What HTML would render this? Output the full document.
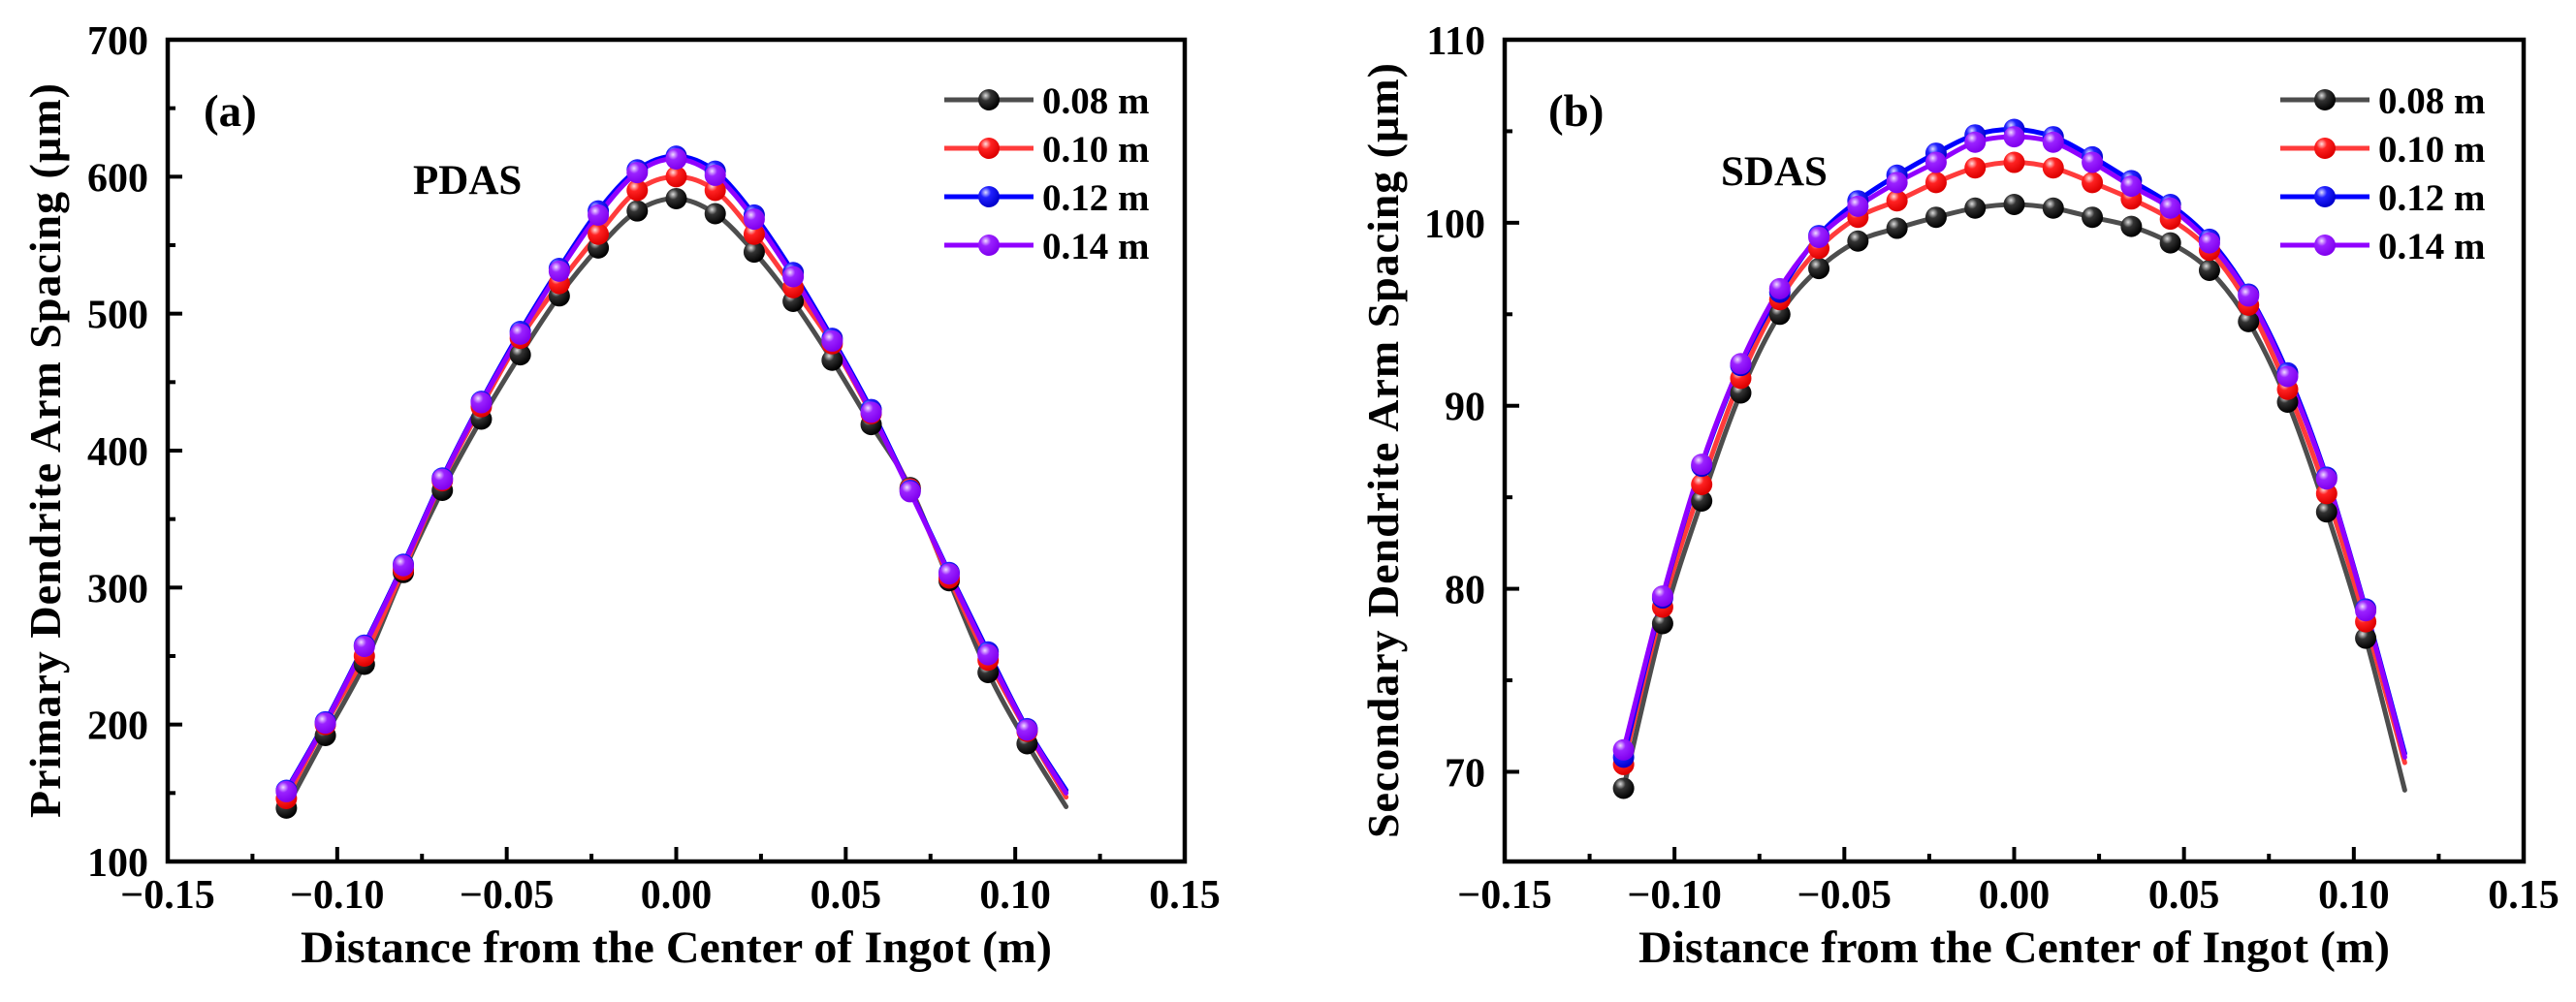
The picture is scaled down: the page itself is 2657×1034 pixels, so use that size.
<!DOCTYPE html>
<html><head><meta charset="utf-8"><style>
html,body{margin:0;padding:0;background:#fff;}
svg{display:block;font-family:"Liberation Serif",serif;font-weight:bold;}
</style></head><body>
<svg id="chart" width="2657" height="1034" viewBox="0 0 2657 1034" xmlns="http://www.w3.org/2000/svg">
<defs>
<radialGradient id="g0" cx="0.35" cy="0.3" r="0.7"><stop offset="0" stop-color="#ddd"/><stop offset="0.35" stop-color="#333"/><stop offset="1" stop-color="#000"/></radialGradient>
<radialGradient id="g1" cx="0.35" cy="0.3" r="0.7"><stop offset="0" stop-color="#fdd"/><stop offset="0.35" stop-color="#f22"/><stop offset="1" stop-color="#d00"/></radialGradient>
<radialGradient id="g2" cx="0.35" cy="0.3" r="0.7"><stop offset="0" stop-color="#ddf"/><stop offset="0.35" stop-color="#22f"/><stop offset="1" stop-color="#00c"/></radialGradient>
<radialGradient id="g3" cx="0.35" cy="0.3" r="0.7"><stop offset="0" stop-color="#f0ddff"/><stop offset="0.35" stop-color="#9a22ff"/><stop offset="1" stop-color="#8000ee"/></radialGradient>
</defs>
</svg>
<script>
const xs = [-0.115,-0.1035,-0.092,-0.0805,-0.069,-0.0575,-0.046,-0.0345,-0.023,-0.0115,0,0.0115,0.023,0.0345,0.046,0.0575,0.069,0.0805,0.092,0.1035,0.115];
const seriesNames = ["0.08 m","0.10 m","0.12 m","0.14 m"];
const pdas08 = [139,192,244,311,371,423,470,513,548,575,584,573,545,509,466,419,373,305,238,186,140];
const pdas10 = [146,200,250,313,378,432,482,522,558,590,600,590,558,519,478,427,372,307,247,195,147];
const pdas12 = [152,202,258,317,380,436,487,533,575,605,615,604,572,530,482,430,371,311,253,197,152];
const pdas14 = [151,201,257,316,379,435,485,531,572,603,613,601,569,527,480,428,370,310,251,196,150];
const sdas08 = [69.1,78.1,84.8,90.7,95.0,97.5,99.0,99.7,100.3,100.8,101.0,100.8,100.3,99.8,98.9,97.4,94.6,90.2,84.2,77.3,69.0];
const sdas10 = [70.4,79.0,85.7,91.5,95.8,98.6,100.3,101.2,102.2,103.0,103.3,103.0,102.2,101.3,100.2,98.5,95.5,90.9,85.2,78.2,70.5];
const sdas12 = [70.8,79.5,86.7,92.2,96.2,99.3,101.2,102.6,103.8,104.8,105.1,104.7,103.6,102.3,101.0,99.1,96.1,91.8,86.1,78.9,71.0];
const sdas14 = [71.2,79.6,86.8,92.3,96.4,99.2,100.9,102.2,103.3,104.4,104.7,104.4,103.3,102.0,100.8,98.9,96.0,91.6,86.0,78.8,70.8];
const xTicks = [-0.15,-0.10,-0.05,0.00,0.05,0.10,0.15];
const xTickLabels = ["\u22120.15","\u22120.10","\u22120.05","0.00","0.05","0.10","0.15"];
const pdasTicks = [100,200,300,400,500,600,700];
const sdasTicks = [70,80,90,100,110];

const svg = document.getElementById('chart');
const NS = 'http://www.w3.org/2000/svg';
const colors = ['#4d4d4d','#ff3b3b','#0000ff','#9000ff'];
function mk(tag, attrs, parent){const e=document.createElementNS(NS,tag);for(const k in attrs)e.setAttribute(k,attrs[k]);(parent||svg).appendChild(e);return e;}

function panel(cfg){
  const g = mk('g',{});
  
  
  const L=cfg.L,R=cfg.R,T=41,B=889;
  const sx = v => L + (v+0.15)/0.30*(R-L);
  const sy = v => B - (v-cfg.ymin)/(cfg.ymax-cfg.ymin)*(B-T);
  cfg.data.forEach((arr,si)=>{
    const pts = xs.map((x,i)=>[sx(x),sy(arr[i])]);
    let d='M'+pts[0][0]+','+pts[0][1];
    for(let i=0;i<pts.length-1;i++){
      const p0=pts[Math.max(0,i-1)],p1=pts[i],p2=pts[i+1],p3=pts[Math.min(pts.length-1,i+2)];
      const c1=[p1[0]+(p2[0]-p0[0])/6,p1[1]+(p2[1]-p0[1])/6];
      const c2=[p2[0]-(p3[0]-p1[0])/6,p2[1]-(p3[1]-p1[1])/6];
      d+=' C'+c1[0]+','+c1[1]+' '+c2[0]+','+c2[1]+' '+p2[0]+','+p2[1];
    }
    const path = mk('path',{d:d,fill:'none',stroke:colors[si],'stroke-width':5,'stroke-linejoin':'round','stroke-linecap':'round'},g);
    
    
  });
  cfg.data.forEach((arr,si)=>{
    for(let i=0;i<xs.length-1;i++){
      const c = mk('circle',{cx:sx(xs[i]),cy:sy(arr[i]),r:11,fill:'url(#g'+si+')'},g);
      
      
    }
  });
  const box = mk('rect',{x:L,y:T,width:R-L,height:B-T,fill:'none',stroke:'#000','stroke-width':4.5},g);
  
  
  xTicks.forEach((t,i)=>{
    mk('line',{x1:sx(t),x2:sx(t),y1:B,y2:B-15,stroke:'#000','stroke-width':4},g);
    if(i<xTicks.length-1){const m=sx(t+0.025);mk('line',{x1:m,x2:m,y1:B,y2:B-8,stroke:'#000','stroke-width':4},g);}
    const tx = mk('text',{x:sx(t),y:937,'text-anchor':'middle','font-size':42},g);
    tx.textContent = xTickLabels[i];
    
    
  });
  cfg.yticks.forEach((t,i)=>{
    mk('line',{x1:L,x2:L+15,y1:sy(t),y2:sy(t),stroke:'#000','stroke-width':4},g);
    const mv = t - cfg.step/2;
    if(mv>cfg.ymin) mk('line',{x1:L,x2:L+8,y1:sy(mv),y2:sy(mv),stroke:'#000','stroke-width':4},g);
    const ty = mk('text',{x:L-20,y:sy(t)+15,'text-anchor':'end','font-size':42},g);
    ty.textContent = String(t);
    
    
  });
  const xt = mk('text',{x:(L+R)/2,y:993,'text-anchor':'middle','font-size':47,textLength:775,lengthAdjust:'spacingAndGlyphs'},g);
  xt.textContent='Distance from the Center of Ingot (m)';
  
  
  const yt = mk('text',{x:0,y:0,'text-anchor':'middle','font-size':46,transform:'translate('+(cfg.ytx)+',465) rotate(-90)',textLength:cfg.ylen,lengthAdjust:'spacing'},g);
  yt.textContent=cfg.ytitle;
  
  
  const lab = mk('text',{x:cfg.labx,y:130,'font-size':47},g);
  lab.textContent=cfg.label;
  
  
  const nm = mk('text',{x:cfg.namex,y:cfg.namey,'font-size':43},g);
  nm.textContent=cfg.title;
  
  
  const rows=[103,153,203,253];
  seriesNames.forEach((n,si)=>{
    const lg = mk('g',{},g);
    
    
    mk('line',{x1:cfg.legx,x2:cfg.legx+92,y1:rows[si],y2:rows[si],stroke:colors[si],'stroke-width':5},lg);
    mk('circle',{cx:cfg.legx+46,cy:rows[si],r:11,fill:'url(#g'+si+')'},lg);
    const t = mk('text',{x:cfg.legx+101,y:rows[si]+14,'font-size':39},lg);
    t.textContent=n;
  });
}
panel({name:'pdas-panel',L:173,R:1222,ymin:100,ymax:700,step:100,yticks:pdasTicks,data:[pdas08,pdas10,pdas12,pdas14],
  ytitle:'Primary Dendrite Arm Spacing (\u00b5m)',ytx:62,ylen:758,label:'(a)',labx:210,title:'PDAS',namex:426,namey:200,legx:974});
panel({name:'sdas-panel',L:1552,R:2603,ymin:65.1,ymax:110,step:10,yticks:sdasTicks,data:[sdas08,sdas10,sdas12,sdas14],
  ytitle:'Secondary Dendrite Arm Spacing (\u00b5m)',ytx:1442,ylen:800,label:'(b)',labx:1597,title:'SDAS',namex:1775,namey:191,legx:2352});
</script>
</body></html>
